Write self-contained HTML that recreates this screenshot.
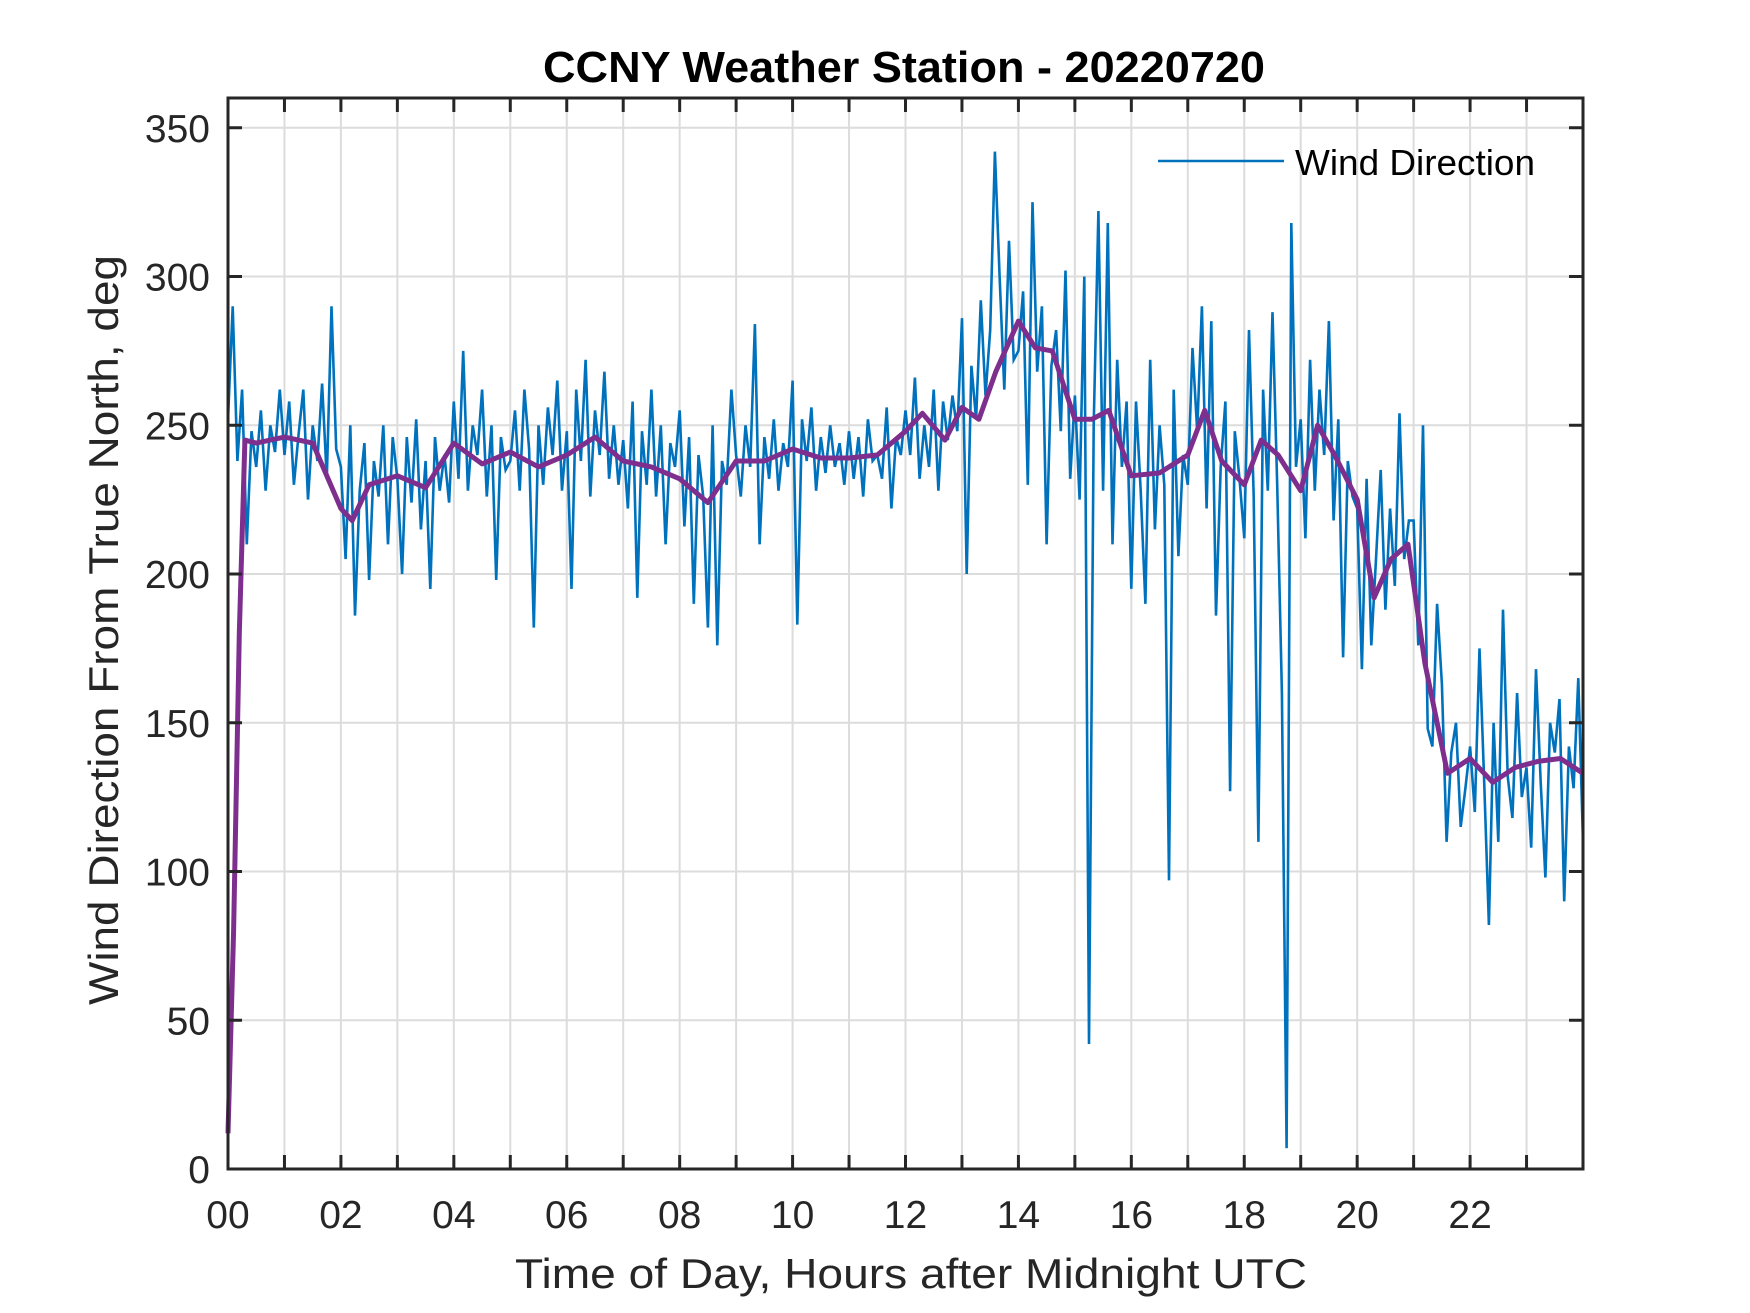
<!DOCTYPE html>
<html>
<head>
<meta charset="utf-8">
<style>
html,body{margin:0;padding:0;background:#fff;}
svg{display:block;}
text{font-family:"Liberation Sans",Arial,sans-serif;fill:#262626;}
</style>
</head>
<body>
<svg id="chart" width="1750" height="1313" viewBox="0 0 1750 1313" xmlns="http://www.w3.org/2000/svg">
  <rect x="0" y="0" width="1750" height="1313" fill="#fff"/>
  <rect x="228" y="98" width="1355" height="1071" fill="#fff"/>
  <g id="grid"></g>
  <g id="series"></g>
  <g id="axes"></g>
  <text x="904" y="82" text-anchor="middle" font-weight="bold" font-size="44" style="fill:#000" textLength="722" lengthAdjust="spacingAndGlyphs">CCNY Weather Station - 20220720</text>
  <text x="911" y="1288" text-anchor="middle" font-size="42" textLength="792" lengthAdjust="spacingAndGlyphs">Time of Day, Hours after Midnight UTC</text>
  <text transform="translate(118,630) rotate(-90)" text-anchor="middle" font-size="42" textLength="750" lengthAdjust="spacingAndGlyphs">Wind Direction From True North, deg</text>
  <g>
    <line x1="1158" y1="161" x2="1284" y2="161" stroke="#0072BD" stroke-width="2.5"/>
    <text x="1295" y="175" font-size="36" style="fill:#000" textLength="240" lengthAdjust="spacingAndGlyphs">Wind Direction</text>
  </g>
</svg>
<script>
// Raw wind direction, 5-minute samples (12 per hour), hours 0..24
const rawValues = [
252,290,238,262,210,248,236,255,228,250,241,262,
240,258,230,247,262,225,250,238,264,232,290,242,
236,205,250,186,228,244,198,238,226,250,210,246,
232,200,246,224,252,215,238,195,246,228,240,224,
258,232,275,228,250,240,262,226,250,198,246,235,
238,255,228,262,242,182,250,230,256,240,265,228,
248,195,262,238,272,226,255,240,268,232,250,230,
245,222,258,192,248,230,262,226,250,210,244,236,
255,216,246,190,240,226,182,250,176,238,230,262,
240,226,250,236,284,210,246,232,252,228,244,236,
265,183,252,238,256,228,246,234,250,236,244,230,
248,232,246,226,252,238,240,232,256,222,246,240,
255,240,266,232,250,236,262,228,258,245,260,248,
286,200,270,252,292,260,282,342,300,262,312,272,
275,295,230,325,268,290,210,270,282,248,302,232,
260,225,300,42,250,322,228,318,210,272,236,258,
195,258,228,190,272,215,250,230,97,262,206,240,
230,276,248,290,222,285,186,236,258,127,248,232,
212,282,226,110,262,228,288,230,160,7,318,236,
252,212,272,228,262,240,285,218,252,172,238,226,
222,168,232,176,205,235,188,222,196,254,205,218,
218,176,250,148,142,190,163,110,140,150,115,128,
142,120,175,130,82,150,110,188,132,118,160,125,
135,108,168,130,98,150,140,158,90,142,128,165,
110];
const rawStepHours = 5/60;

// Smoothed (moving average) wind direction
const smoothHours = [0,0.1,0.2,0.3,0.5,1.0,1.5,2.0,2.2,2.5,3.0,3.5,4.0,4.5,5.0,5.5,6.0,6.5,7.0,7.5,8.0,8.5,9.0,9.5,10.0,10.5,11.0,11.5,12.0,12.3,12.7,13.0,13.3,13.6,14.0,14.3,14.6,15.0,15.3,15.6,16.0,16.5,17.0,17.3,17.6,18.0,18.3,18.6,19.0,19.3,19.6,20.0,20.3,20.6,20.9,21.2,21.6,22.0,22.4,22.8,23.2,23.6,24.0];
const smoothValues = [12,80,180,245,244,246,244,222,218,230,233,229,244,237,241,236,240,246,238,236,232,224,238,238,242,239,239,240,248,254,245,256,252,268,285,276,275,252,252,255,233,234,240,255,238,230,245,240,228,250,240,225,192,205,210,170,133,138,130,135,137,138,133];

const xTickValues = [0,2,4,6,8,10,12,14,16,18,20,22];
const xTickLabels = ["00","02","04","06","08","10","12","14","16","18","20","22"];
const yTickValues = [0,50,100,150,200,250,300,350];
const yTickLabels = ["0","50","100","150","200","250","300","350"];

const NS = "http://www.w3.org/2000/svg";
const L = 228, R = 1583, T = 98, B = 1169;
const xMin = 0, xMax = 24, yMin = 0, yMax = 360;
function xs(h){ return L + (h - xMin) / (xMax - xMin) * (R - L); }
function ys(v){ return B - (v - yMin) / (yMax - yMin) * (B - T); }
function mk(tag, attrs, parent){
  const e = document.createElementNS(NS, tag);
  for (const k in attrs) e.setAttribute(k, attrs[k]);
  parent.appendChild(e);
  return e;
}
const grid = document.getElementById('grid');
const series = document.getElementById('series');
const axes = document.getElementById('axes');

for (let h = 1; h < 24; h++) {
  const g = mk('line', {x1: xs(h), x2: xs(h), y1: T, y2: B, stroke: '#dcdcdc', 'stroke-width': 2}, grid);
  
  
}
yTickValues.forEach(v => {
  if (v === 0) return;
  const g = mk('line', {x1: L, x2: R, y1: ys(v), y2: ys(v), stroke: '#dcdcdc', 'stroke-width': 2}, grid);
  
  
});

let d = '';
rawValues.forEach((v, i) => {
  d += (i ? 'L' : 'M') + xs(i * rawStepHours).toFixed(1) + ' ' + ys(v).toFixed(1);
});
const raw = mk('path', {d: d, fill: 'none', stroke: '#0072BD', 'stroke-width': 2.6, 'stroke-linejoin': 'miter'}, series);



let d2 = '';
smoothValues.forEach((v, i) => {
  d2 += (i ? 'L' : 'M') + xs(smoothHours[i]).toFixed(1) + ' ' + ys(v).toFixed(1);
});
const sm = mk('path', {d: d2, fill: 'none', stroke: '#7E2F8E', 'stroke-width': 5, 'stroke-linejoin': 'round'}, series);



const box = mk('rect', {x: L, y: T, width: R - L, height: B - T, fill: 'none', stroke: '#262626', 'stroke-width': 3}, axes);



const tl = 14;
for (let h = 1; h < 24; h++) {
  const t1 = mk('line', {x1: xs(h), x2: xs(h), y1: B, y2: B - tl, stroke: '#262626', 'stroke-width': 3}, axes);
  
  
  const t2 = mk('line', {x1: xs(h), x2: xs(h), y1: T, y2: T + tl, stroke: '#262626', 'stroke-width': 3}, axes);
  
  
}
xTickValues.forEach((v, i) => {
  const t = mk('text', {x: xs(v), y: 1228, 'text-anchor': 'middle', 'font-size': 39}, axes);
  t.textContent = xTickLabels[i];
  
  
});
yTickValues.forEach((v, i) => {
  const t1 = mk('line', {x1: L, x2: L + tl, y1: ys(v), y2: ys(v), stroke: '#262626', 'stroke-width': 3}, axes);
  
  
  const t2 = mk('line', {x1: R, x2: R - tl, y1: ys(v), y2: ys(v), stroke: '#262626', 'stroke-width': 3}, axes);
  
  
  const t = mk('text', {x: 210, y: ys(v) + 14, 'text-anchor': 'end', 'font-size': 39}, axes);
  t.textContent = yTickLabels[i];
  
  
});
</script>
</body>
</html>
